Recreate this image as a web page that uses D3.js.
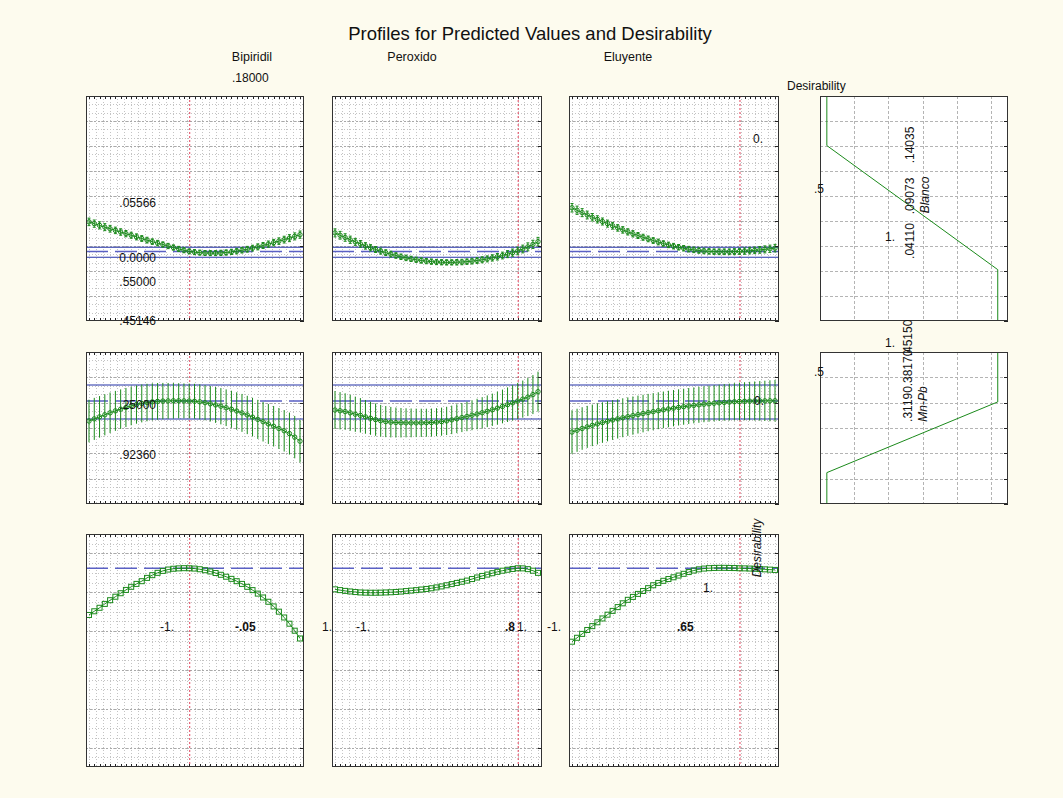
<!DOCTYPE html>
<html>
<head>
<meta charset="utf-8">
<script src="https://cdn.jsdelivr.net/npm/d3@7"></script>
<style>
  body { margin: 0; background: #fdfbee; }
  svg { display: block; font-family: "Liberation Sans", Arial, sans-serif; }
</style>
</head>
<body>
<svg id="chart" width="1063" height="798"></svg>
<script>
// factor names and the current settings (red dotted lines)
const factors = ["Bipiridil", "Peroxido", "Eluyente"];
const currentLevel = [-0.05, 0.8, 0.65];
// factor grid used by the profiler: -1 .. 1 by .05
const levels = d3.range(41).map(i => -1 + i * 0.05);

// Blanco profiles
const blancoBip = [.0793,.0779,.0765,.0751,.0738,.0725,.0712,.0699,.0686,.0673,
  .0660,.0647,.0635,.0623,.0612,.0600,.0588,.0577,.0566,.0557,
  .0551,.0547,.0544,.0543,.0543,.0545,.0548,.0553,.0559,.0566,
  .0574,.0583,.0593,.0604,.0615,.0627,.0639,.0651,.0663,.0677,.0691];
const blancoPer = [.0705,.0686,.0668,.0650,.0633,.0617,.0601,.0586,.0572,.0559,
  .0547,.0535,.0524,.0514,.0505,.0497,.0490,.0484,.0479,.0475,
  .0472,.0470,.0469,.0469,.0470,.0472,.0475,.0479,.0484,.0490,
  .0497,.0505,.0514,.0524,.0535,.0547,.0560,.0576,.0593,.0613,.0635];
const blancoElu = [.0906,.0886,.0867,.0848,.0830,.0813,.0796,.0779,.0762,.0745,
  .0729,.0713,.0698,.0684,.0670,.0657,.0644,.0632,.0620,.0609,
  .0599,.0590,.0582,.0575,.0569,.0564,.0560,.0557,.0555,.0554,
  .0554,.0554,.0555,.0557,.0559,.0562,.0565,.0569,.0573,.0578,.0583];
const errBlancoBip = [.0030,.0029,.0028,.0028,.0027,.0026,.0026,.0025,.0024,.0024,
  .0023,.0023,.0022,.0022,.0021,.0021,.0021,.0020,.0020,.0020,
  .0020,.0020,.0020,.0020,.0020,.0021,.0021,.0021,.0022,.0022,
  .0023,.0023,.0024,.0024,.0025,.0026,.0026,.0027,.0028,.0028,.0029];
const errBlancoPer = [.0032,.0031,.0030,.0029,.0028,.0027,.0026,.0025,.0024,.0024,
  .0023,.0023,.0022,.0022,.0022,.0021,.0021,.0021,.0021,.0021,
  .0021,.0021,.0021,.0021,.0022,.0022,.0022,.0023,.0023,.0024,
  .0024,.0025,.0026,.0027,.0028,.0029,.0030,.0031,.0032,.0033,.0034];
const errBlancoElu = [.0034,.0033,.0032,.0031,.0030,.0029,.0028,.0028,.0027,.0026,
  .0026,.0025,.0025,.0024,.0024,.0023,.0023,.0023,.0022,.0022,
  .0022,.0022,.0022,.0022,.0022,.0022,.0022,.0022,.0022,.0023,
  .0023,.0023,.0024,.0024,.0025,.0025,.0026,.0027,.0028,.0029,.0030];

// Mn-Pb profiles
const mnpbBip = [.4138,.4180,.4220,.4260,.4300,.4338,.4372,.4405,.4436,.4463,
  .4485,.4502,.4516,.4526,.4532,.4535,.4537,.4537,.4535,.4533,
  .4528,.4517,.4500,.4478,.4455,.4430,.4400,.4370,.4335,.4298,
  .4257,.4215,.4170,.4124,.4080,.4035,.3990,.3945,.3890,.3820,.3740];
const mnpbPer = [.4355,.4340,.4324,.4300,.4272,.4250,.4220,.4192,.4165,.4143,
  .4126,.4115,.4108,.4104,.4102,.4101,.4101,.4102,.4104,.4108,
  .4115,.4125,.4140,.4160,.4183,.4206,.4228,.4252,.4276,.4302,
  .4330,.4360,.4392,.4425,.4460,.4496,.4533,.4570,.4610,.4660,.4717];
const mnpbElu = [.3920,.3955,.3990,.4022,.4052,.4080,.4107,.4133,.4157,.4180,
  .4202,.4224,.4245,.4265,.4285,.4305,.4323,.4341,.4358,.4375,
  .4391,.4406,.4420,.4434,.4446,.4458,.4469,.4479,.4488,.4497,
  .4505,.4512,.4518,.4524,.4528,.4531,.4533,.4535,.4536,.4537,.4538];
const errMnpbBip = [.0420,.0415,.0410,.0405,.0400,.0395,.0390,.0386,.0382,.0378,
  .0374,.0370,.0366,.0362,.0358,.0354,.0350,.0347,.0345,.0344,
  .0344,.0345,.0347,.0350,.0354,.0358,.0362,.0366,.0370,.0374,
  .0378,.0382,.0386,.0390,.0395,.0400,.0405,.0410,.0414,.0418,.0422];
const errMnpbPer = [.0375,.0368,.0361,.0354,.0347,.0340,.0333,.0326,.0319,.0313,
  .0307,.0301,.0296,.0291,.0287,.0284,.0281,.0279,.0277,.0276,
  .0276,.0277,.0279,.0281,.0284,.0287,.0291,.0296,.0301,.0307,
  .0313,.0319,.0326,.0333,.0341,.0349,.0357,.0366,.0375,.0385,.0395];
const errMnpbElu = [.0430,.0425,.0420,.0415,.0410,.0405,.0400,.0396,.0392,.0388,
  .0384,.0380,.0377,.0374,.0371,.0368,.0366,.0364,.0362,.0360,
  .0358,.0357,.0356,.0355,.0355,.0355,.0355,.0356,.0357,.0359,
  .0361,.0364,.0367,.0371,.0375,.0380,.0385,.0391,.0397,.0404,.0412];

// overall desirability profiles
const desBip = [.6830,.7020,.7200,.7400,.7590,.7770,.7950,.8120,.8280,.8430,
  .8570,.8740,.8880,.9000,.9100,.9170,.9210,.9230,.9240,.9236,
  .9220,.9185,.9135,.9070,.8990,.8900,.8800,.8690,.8570,.8430,
  .8280,.8110,.7930,.7730,.7510,.7270,.7000,.6700,.6380,.6020,.5620];
const desPer = [.8150,.8110,.8070,.8040,.8010,.7990,.7980,.7975,.7975,.7980,
  .7990,.8000,.8015,.8035,.8060,.8085,.8110,.8140,.8170,.8205,
  .8250,.8300,.8360,.8420,.8480,.8540,.8600,.8680,.8760,.8840,
  .8910,.8980,.9050,.9110,.9160,.9200,.9236,.9230,.9190,.9110,.9000];
const desElu = [.5454,.5655,.5856,.6057,.6255,.6453,.6650,.6845,.7040,.7235,
  .7430,.7610,.7760,.7915,.8065,.8210,.8360,.8480,.8590,.8680,
  .8770,.8860,.8950,.9040,.9120,.9180,.9220,.9240,.9252,.9258,
  .9258,.9252,.9246,.9236,.9230,.9220,.9208,.9195,.9180,.9165,.9150];

// predicted value and its confidence limits at the current settings
const blancoCI = [0.0510, 0.05566, 0.0590];
const mnpbCI = [0.4178, 0.4533, 0.4849];
const desirPred = 0.9236;

// individual desirability functions (desirability vs response)
const blancoDesD = [0, 0, 0.5, 1, 1];
const blancoDesV = [0.18, 0.14035, 0.09073, 0.04110, 0];
const mnpbDesD = [0, 0, 0.5, 1, 1];
const mnpbDesV = [0.25, 0.31190, 0.38170, 0.45150, 0.55];

const green = "#1b8a1b", blue = "#2433a8", blueDash = "#5a60c4", red = "#e2405a";

const svg = d3.select("#chart");
svg.append("rect").attr("width", 1063).attr("height", 798).attr("fill", "#fdfbee");

const colX = [[86, 304], [332, 542], [569, 779]];
const desX = [820, 1008];

const rows = [
  { y: d3.scaleLinear().domain([0, 0.18]).range([321, 96]), nTicks: 9, minorStep: 0.02 / 3,
    series: [blancoBip, blancoPer, blancoElu], err: [errBlancoBip, errBlancoPer, errBlancoElu],
    ci: blancoCI, marker: "circle" },
  { y: d3.scaleLinear().domain([0.25, 0.55]).range([504, 352]), nTicks: 6, minorStep: 0.05 / 3,
    series: [mnpbBip, mnpbPer, mnpbElu], err: [errMnpbBip, errMnpbPer, errMnpbElu],
    ci: mnpbCI, marker: "circle" },
  { y: d3.scaleLinear().domain([-0.1, 1.1]).range([767, 534]), nTicks: 6, minorStep: 0.05,
    series: [desBip, desPer, desElu], err: null, ci: [desirPred], marker: "square" }
];

let clipId = 0;
function makeClip(x0, x1, y0, y1) {
  const id = "clip" + (clipId++);
  svg.append("clipPath").attr("id", id)
    .append("rect").attr("x", x0).attr("y", y0).attr("width", x1 - x0).attr("height", y1 - y0);
  return "url(#" + id + ")";
}

rows.forEach((row, r) => {
  const [y1, y0] = row.y.range();
  row.series.forEach((vals, c) => {
    const [x0, x1] = colX[c];
    const x = d3.scaleLinear().domain([-1, 1]).range([x0 + 3, x1 - 4]);
    const g = svg.append("g");
    g.append("rect").attr("x", x0).attr("y", y0).attr("width", x1 - x0).attr("height", y1 - y0)
      .attr("fill", "#fff");
    const inner = g.append("g").attr("clip-path", makeClip(x0, x1, y0, y1));

    // dense dotted grid
    const dom = row.y.domain();
    inner.selectAll("line.minh").data(d3.range(dom[0], dom[1], row.minorStep)).join("line")
      .attr("x1", x0).attr("x2", x1)
      .attr("y1", d => Math.round(row.y(d)) + 0.5).attr("y2", d => Math.round(row.y(d)) + 0.5)
      .attr("stroke", "#c4c4c4").attr("stroke-dasharray", "1,2");
    inner.selectAll("line.minv").data(d3.range(-1, 1.001, 2 / 30)).join("line")
      .attr("y1", y0).attr("y2", y1)
      .attr("x1", d => Math.round(x(d)) + 0.5).attr("x2", d => Math.round(x(d)) + 0.5)
      .attr("stroke", "#c4c4c4").attr("stroke-dasharray", "1,2");
    inner.selectAll("line.majh").data(row.y.ticks(row.nTicks)).join("line")
      .attr("x1", x0).attr("x2", x1)
      .attr("y1", d => Math.round(row.y(d)) + 0.5).attr("y2", d => Math.round(row.y(d)) + 0.5)
      .attr("stroke", "#a9a9a9").attr("stroke-dasharray", "2,2");

    // current factor level
    inner.append("line")
      .attr("x1", x(currentLevel[c]) + 0.5).attr("x2", x(currentLevel[c]) + 0.5)
      .attr("y1", y0).attr("y2", y1)
      .attr("stroke", red).attr("stroke-dasharray", "2,2");

    // predicted value and confidence limits
    if (row.ci.length === 3) {
      inner.selectAll("line.ci").data([row.ci[0], row.ci[2]]).join("line")
        .attr("x1", x0).attr("x2", x1)
        .attr("y1", d => row.y(d)).attr("y2", d => row.y(d))
        .attr("stroke", blue).attr("stroke-width", 1.2);
    }
    const pred = row.ci.length === 3 ? row.ci[1] : row.ci[0];
    inner.append("line")
      .attr("x1", x0).attr("x2", x1).attr("y1", row.y(pred)).attr("y2", row.y(pred))
      .attr("stroke", blueDash).attr("stroke-width", 1.5).attr("stroke-dasharray", "22,7");

    // profile line, error bars and markers
    const pts = levels.map((lv, i) => ({ lv, v: vals[i], e: row.err ? row.err[c][i] : 0 }));
    inner.append("path").datum(pts)
      .attr("d", d3.line().x(d => x(d.lv)).y(d => row.y(d.v)))
      .attr("fill", "none").attr("stroke", green).attr("stroke-width", 1);
    if (row.err) {
      inner.selectAll("line.err").data(pts).join("line")
        .attr("x1", d => x(d.lv)).attr("x2", d => x(d.lv))
        .attr("y1", d => row.y(d.v - d.e)).attr("y2", d => row.y(d.v + d.e))
        .attr("stroke", green).attr("stroke-width", 1);
      if (r === 0) {
        inner.selectAll("path.cap").data(pts).join("path")
          .attr("d", d => `M${x(d.lv) - 1.5},${row.y(d.v + d.e)}h3M${x(d.lv) - 1.5},${row.y(d.v - d.e)}h3`)
          .attr("stroke", green).attr("fill", "none");
      }
    }
    if (row.marker === "circle") {
      inner.selectAll("circle.pt").data(pts).join("circle")
        .attr("cx", d => x(d.lv)).attr("cy", d => row.y(d.v)).attr("r", 2.2)
        .attr("fill", "none").attr("stroke", green).attr("stroke-width", 1);
    } else {
      inner.selectAll("rect.pt").data(pts).join("rect")
        .attr("x", d => x(d.lv) - 2.5).attr("y", d => row.y(d.v) - 2.5)
        .attr("width", 5).attr("height", 5)
        .attr("fill", "none").attr("stroke", green).attr("stroke-width", 1);
    }

    // frame and tick marks
    g.selectAll("path.xt").data(levels).join("path")
      .attr("d", d => `M${Math.round(x(d)) + 0.5},${y1}v-3M${Math.round(x(d)) + 0.5},${y0}v3`)
      .attr("stroke", "#222");
    g.selectAll("path.yt").data(row.y.ticks(row.nTicks)).join("path")
      .attr("d", d => `M${x1},${Math.round(row.y(d)) + 0.5}h-4`)
      .attr("stroke", "#222");
    g.append("rect").attr("x", x0 + 0.5).attr("y", y0 + 0.5)
      .attr("width", x1 - x0 - 1).attr("height", y1 - y0 - 1)
      .attr("fill", "none").attr("stroke", "#333");
  });
});

// desirability function panels (Blanco, Mn-Pb)
const dx = d3.scaleLinear().domain([-0.04, 1.06]).range(desX);
[[blancoDesD, blancoDesV, rows[0]], [mnpbDesD, mnpbDesV, rows[1]]].forEach(([dd, vv, row]) => {
  const [y1, y0] = row.y.range();
  const g = svg.append("g");
  g.append("rect").attr("x", desX[0]).attr("y", y0).attr("width", desX[1] - desX[0]).attr("height", y1 - y0)
    .attr("fill", "#fff");
  const inner = g.append("g").attr("clip-path", makeClip(desX[0], desX[1], y0, y1));
  inner.selectAll("line.gv").data(d3.range(0.16, 1.0, 0.2)).join("line")
    .attr("x1", d => Math.round(dx(d)) + 0.5).attr("x2", d => Math.round(dx(d)) + 0.5)
    .attr("y1", y0).attr("y2", y1)
    .attr("stroke", "#b4b4b4").attr("stroke-dasharray", "3,2");
  inner.selectAll("line.gh").data(row.y.ticks(row.nTicks)).join("line")
    .attr("x1", desX[0]).attr("x2", desX[1])
    .attr("y1", d => Math.round(row.y(d)) + 0.5).attr("y2", d => Math.round(row.y(d)) + 0.5)
    .attr("stroke", "#b4b4b4").attr("stroke-dasharray", "3,2");
  inner.append("path").datum(d3.zip(dd, vv))
    .attr("d", d3.line().x(d => dx(d[0])).y(d => row.y(d[1])))
    .attr("fill", "none").attr("stroke", green).attr("stroke-width", 1);
  g.selectAll("path.yt").data(row.y.ticks(row.nTicks)).join("path")
    .attr("d", d => `M${desX[1]},${Math.round(row.y(d)) + 0.5}h-4`)
    .attr("stroke", "#222");
  g.append("rect").attr("x", desX[0] + 0.5).attr("y", y0 + 0.5)
    .attr("width", desX[1] - desX[0] - 1).attr("height", y1 - y0 - 1)
    .attr("fill", "none").attr("stroke", "#333");
});

// texts
function label(t, x, y, opt = {}) {
  const el = svg.append("text").text(t)
    .attr("font-size", opt.size || 12)
    .attr("fill", "#111")
    .attr("text-anchor", opt.anchor || "start")
    .attr("font-weight", opt.bold ? "bold" : null)
    .attr("font-style", opt.italic ? "italic" : null);
  if (opt.rotate) el.attr("transform", `translate(${x},${y}) rotate(-90)`);
  else el.attr("x", x).attr("y", y);
  return el;
}

label("Profiles for Predicted Values and Desirability", 530, 40, { size: 18.5, anchor: "middle" });
label(factors[0], 252, 61, { anchor: "middle", size: 12.5 });
label(factors[1], 412, 61, { anchor: "middle", size: 12.5 });
label(factors[2], 628, 61, { anchor: "middle", size: 12.5 });
label(".18000", 232, 82);
label("Desirability", 787, 90);

label(".05566", 156, 207, { anchor: "end" });
label("0.0000", 156, 262, { anchor: "end" });
label(".55000", 156, 286, { anchor: "end" });
label(".45146", 156, 325, { anchor: "end" });
label("0.", 753, 143);
label(".25000", 156, 409, { anchor: "end" });
label(".92360", 156, 459, { anchor: "end" });
label("0.", 754, 405);

label(".5", 814, 193);
label(".04110", 914, 241, { rotate: true, anchor: "middle" });
label(".09073", 914, 196, { rotate: true, anchor: "middle" });
label(".14035", 914, 145, { rotate: true, anchor: "middle" });
label("Blanco", 929, 195, { rotate: true, anchor: "middle", italic: true });
label("1.", 885, 241);

label("1.", 885, 347);
label(".5", 814, 376);
label(".31190", 912, 404, { rotate: true, anchor: "middle" });
label(".38170", 912, 368, { rotate: true, anchor: "middle" });
label(".45150", 912, 338, { rotate: true, anchor: "middle" });
label("Mn-Pb", 927, 404, { rotate: true, anchor: "middle", italic: true });

label("-1.", 160, 631);
label("-.05", 235, 631, { bold: true });
label("1.", 322, 631);
label("-1.", 356, 631);
label(".8", 505, 631, { bold: true });
label("1.", 517, 631);
label("-1.", 547, 631);
label(".65", 677, 631, { bold: true });
label("1.", 703, 592);
label("Desirability", 761, 548, { rotate: true, anchor: "middle", italic: true });
</script>
</body>
</html>
